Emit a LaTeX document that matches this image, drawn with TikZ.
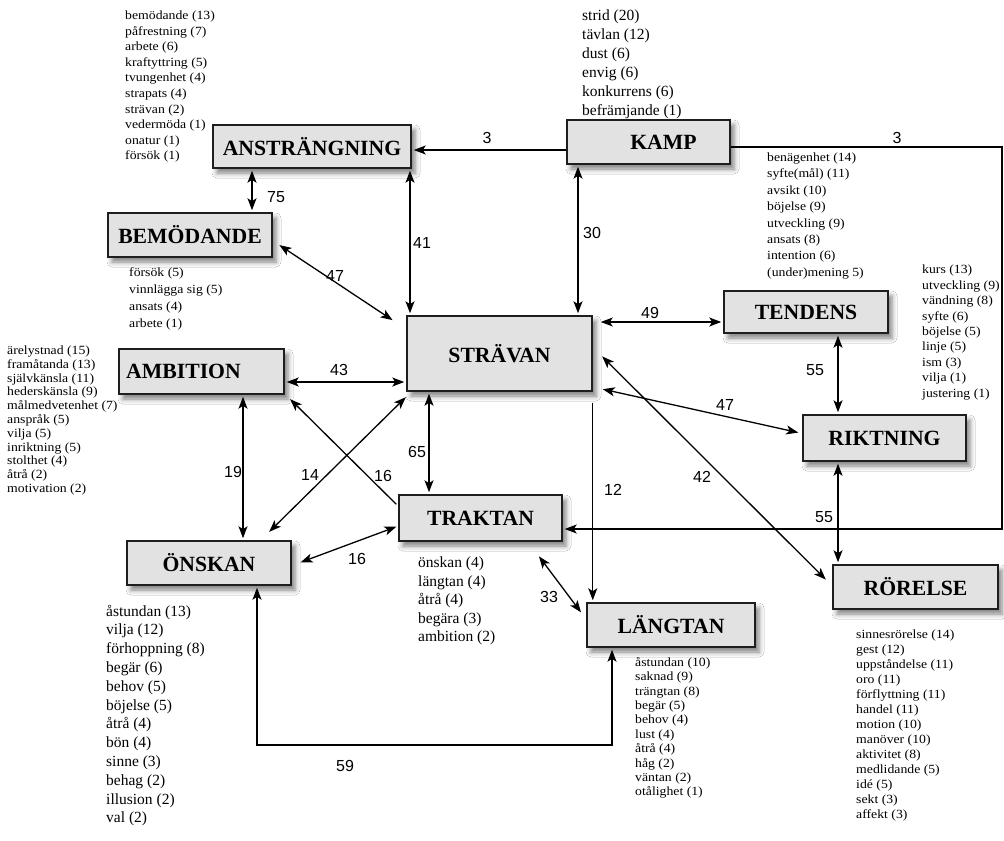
\documentclass[tikz,border=0pt]{standalone}
\usepackage{fontspec}
\setmainfont{Liberation Serif}
\newfontfamily\numfont{Liberation Sans}
\newfontfamily\listfont{Liberation Serif}[FakeStretch=1.1]
\usetikzlibrary{arrows.meta,shadows.blur}
\definecolor{boxgray}{RGB}{226,226,226}
\definecolor{edge}{RGB}{30,30,30}

\begin{document}
\begin{tikzpicture}[x=1bp,y=-1bp,
  box/.style={draw=edge, line width=1.5bp, fill=boxgray, inner sep=0pt,
    font=\bfseries\fontsize{21.7bp}{24bp}\selectfont,
    blur shadow={shadow xshift=4bp, shadow yshift=-5bp, shadow blur radius=5bp, shadow opacity=50}},
  conn/.style={line width=1.3bp, draw=black},
  tip/.tip={Stealth[length=12bp,width=9bp,inset=3bp]},
  one/.style={conn, -tip, shorten >=2bp},
  two/.style={conn, tip-tip, shorten >=2bp, shorten <=2bp},
  num/.style={font=\numfont\fontsize{16bp}{18bp}\selectfont, inner sep=0pt},
  small/.style={font=\listfont\fontsize{12.5bp}{#1}\selectfont, align=left, anchor=north west, inner sep=0pt},
  large/.style={font=\fontsize{15.5bp}{#1}\selectfont, align=left, anchor=north west, inner sep=0pt},
]
\useasboundingbox[fill=white] (0,0) rectangle (1004,841);

% concept boxes
\node[box, minimum width=198bp, minimum height=43bp] (anst) at (312,146.5) {ANSTRÄNGNING};
\node[box, minimum width=163bp, minimum height=44bp] (kamp) at (648.5,142) {\hspace*{30bp}KAMP};
\node[box, minimum width=164bp, minimum height=44bp] (bem) at (190,235) {BEMÖDANDE};
\node[box, minimum width=165bp, minimum height=45bp] (amb) at (201.5,371.5) {AMBITION\hspace*{36bp}};
\node[box, minimum width=185bp, minimum height=75bp] (strav) at (499.5,353.5) {STRÄVAN};
\node[box, minimum width=164bp, minimum height=42bp] (tend) at (806,312) {TENDENS};
\node[box, minimum width=163bp, minimum height=46bp] (rikt) at (884.5,438) {RIKTNING};
\node[box, minimum width=165bp, minimum height=44bp] (rore) at (915.5,587) {RÖRELSE};
\node[box, minimum width=163bp, minimum height=46bp] (trak) at (480.5,518) {TRAKTAN};
\node[box, minimum width=164bp, minimum height=44bp] (onsk) at (209,563) {ÖNSKAN};
\node[box, minimum width=168bp, minimum height=44bp] (lang) at (671,625) {LÄNGTAN};

% word lists
\node[small=15.6bp] (lanst) at (125,10.6) {bemödande (13)\\påfrestning (7)\\arbete (6)\\kraftyttring (5)\\tvungenhet (4)\\strapats (4)\\strävan (2)\\vedermöda (1)\\onatur (1)\\försök (1)};
\node[large=19bp] (lkamp) at (582,9.6) {strid (20)\\tävlan (12)\\dust (6)\\envig (6)\\konkurrens (6)\\befrämjande (1)};
\node[small=17bp] (lbem) at (129,267.6) {försök (5)\\vinnlägga sig (5)\\ansats (4)\\arbete (1)};
\node[small=13.8bp] (lamb) at (7,345.6) {ärelystnad (15)\\framåtanda (13)\\självkänsla (11)\\hederskänsla (9)\\målmedvetenhet (7)\\anspråk (5)\\vilja (5)\\inriktning (5)\\stolthet (4)\\åtrå (2)\\motivation (2)};
\node[small=16.4bp] (ltend) at (767,152.6) {benägenhet (14)\\syfte(mål) (11)\\avsikt (10)\\böjelse (9)\\utveckling (9)\\ansats (8)\\intention (6)\\(under)mening 5)};
\node[small=15.4bp] (lrikt) at (922,265) {kurs (13)\\utveckling (9)\\vändning (8)\\syfte (6)\\böjelse (5)\\linje (5)\\ism (3)\\vilja (1)\\justering (1)};
\node[large=18.6bp] (ltrak) at (418,556.6) {önskan (4)\\längtan (4)\\åtrå (4)\\begära (3)\\ambition (2)};
\node[large=18.8bp] (lonsk) at (106,604.6) {åstundan (13)\\vilja (12)\\förhoppning (8)\\begär (6)\\behov (5)\\böjelse (5)\\åtrå (4)\\bön (4)\\sinne (3)\\behag (2)\\illusion (2)\\val (2)};
\node[small=14.4bp] (llang) at (635,657) {åstundan (10)\\saknad (9)\\trängtan (8)\\begär (5)\\behov (4)\\lust (4)\\åtrå (4)\\håg (2)\\väntan (2)\\otålighet (1)};
\node[small=15bp] (lrore) at (856,630) {sinnesrörelse (14)\\gest (12)\\uppståndelse (11)\\oro (11)\\förflyttning (11)\\handel (11)\\motion (10)\\manöver (10)\\aktivitet (8)\\medlidande (5)\\idé (5)\\sekt (3)\\affekt (3)};

% bend points of the routed connectors
\coordinate (rtop) at (1002,147);
\coordinate (rbot) at (1002,529);
\coordinate (bl) at (257,745);
\coordinate (br) at (612,745);

% connectors
\draw[one] (kamp.west |- 0,150) -- (anst.east |- 0,150);
\draw[one] (kamp.east |- rtop) -- (rtop) -- (rbot) -- (trak.east |- rbot);
\draw[two] (anst.south -| 252,0) -- (bem.north -| 252,0);
\draw[two] (anst.south -| 410,0) -- (strav.north -| 410,0);
\draw[two] (kamp.south -| 578,0) -- (strav.north -| 578,0);
\draw[two] ([shift={(5,9)}]bem.east) -- ([shift={(-12,6)}]strav.north west);
\draw[two] (amb.east |- 0,382) -- (strav.west |- 0,382);
\draw[two] (amb.south -| 243,0) -- (onsk.north -| 243,0);
\draw[one] ([shift={(-2,10)}]trak.north west) -- ([shift={(4,3)}]amb.south east);
\draw[two] ([shift={(-24,-7)}]onsk.north east) -- ([shift={(1,4)}]strav.south west);
\draw[two] ([shift={(7,0)}]onsk.east) -- ([shift={(0,8)}]trak.west);
\draw[two] (strav.south -| 429,0) -- (trak.north -| 429,0);
\draw[one] ([shift={(0,11)}]strav.south east) -- (lang.north -| strav.south east);
\draw[two, shorten <=8bp] (strav.east |- 0,322) -- (tend.west |- 0,322);
\draw[two] (tend.south -| 838,0) -- (rikt.north -| 838,0);
\draw[two] ([shift={(8,-3)}]strav.south east) -- ([shift={(-2,-5)}]rikt.west);
\draw[two] ([shift={(8,1.5)}]strav.east) -- ([shift={(-5,-6)}]rore.west);
\draw[two] (rikt.south -| 838,0) -- (rore.north -| 838,0);
\draw[two] ([shift={(-25,13)}]trak.south east) -- ([shift={(-4,-11)}]lang.west);
\draw[two] (onsk.south -| bl) -- (bl) -- (br) -- (lang.south -| br);

% connector weights
\node[num] (w1) at (487,138) {3};
\node[num] (w2) at (897,138) {3};
\node[num] (w3) at (276,197) {75};
\node[num] (w4) at (422,243) {41};
\node[num] (w5) at (592,233) {30};
\node[num] (w6) at (335,276) {47};
\node[num] (w7) at (339,370) {43};
\node[num] (w8) at (233,472) {19};
\node[num] (w9) at (310,475) {14};
\node[num] (w10) at (383,476) {16};
\node[num] (w11) at (417,452) {65};
\node[num] (w12) at (357,559) {16};
\node[num] (w13) at (613,490) {12};
\node[num] (w14) at (650,313) {49};
\node[num] (w15) at (815,370) {55};
\node[num] (w16) at (725,405) {47};
\node[num] (w17) at (702,477) {42};
\node[num] (w18) at (824,517) {55};
\node[num] (w19) at (549,597) {33};
\node[num] (w20) at (345,766) {59};
\end{tikzpicture}
\end{document}
